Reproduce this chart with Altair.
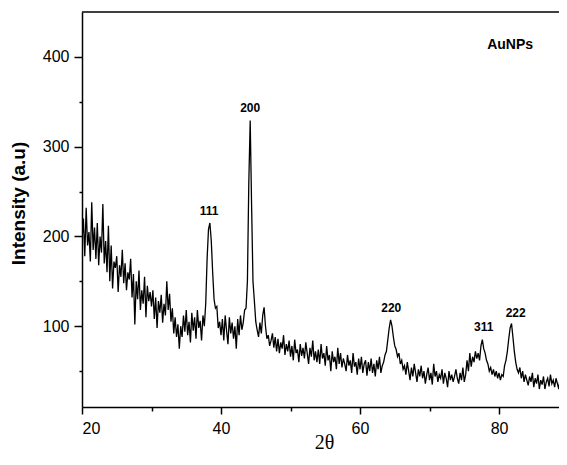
import altair as alt
import pandas as pd

# XRD pattern sampled every 0.2 degrees from 2theta = 20.0
theta_start = 20.0
theta_step = 0.2
intensity = [
    196, 220, 178, 232, 190, 205, 172, 238, 185, 210,   # 20
    175, 215, 168, 200, 182, 236, 170, 195, 160, 212,   # 22
    150, 190, 142, 172, 165, 178, 138, 168, 155, 185,   # 24
    148, 170, 140, 160, 152, 175, 132, 158, 102, 150,   # 26
    130, 162, 118, 140, 125, 155, 110, 145, 128, 138,   # 28
    122, 140, 108, 132, 98, 128, 115, 135, 104, 125,    # 30
    112, 150, 118, 136, 105, 120, 92, 110, 88, 102,     # 32
    75, 100, 88, 112, 94, 118, 90, 105, 82, 115,        # 34
    95, 110, 86, 118, 98, 106, 84, 112, 100, 125,       # 36
    175, 208, 215, 195, 160, 130, 120, 122, 98, 105,    # 38
    90, 108, 84, 112, 95, 80, 110, 92, 104, 86,         # 40
    100, 75, 108, 90, 112, 96, 104, 118, 120, 150,      # 42
    260, 329, 235, 150, 128, 105, 96, 88, 104, 92,      # 44
    112, 121, 100, 86, 90, 78, 84, 92, 76, 88,          # 46
    72, 86, 70, 82, 75, 90, 68, 80, 72, 84,             # 48
    66, 78, 62, 85, 70, 74, 60, 80, 67, 76,             # 50
    64, 82, 70, 58, 76, 66, 84, 62, 72, 60,             # 52
    74, 58, 80, 64, 70, 56, 78, 62, 68, 50,             # 54
    72, 60, 66, 52, 76, 58, 70, 54, 64, 58,             # 56
    50, 68, 56, 62, 48, 70, 55, 60, 46, 64,             # 58
    52, 66, 48, 58, 62, 45, 60, 50, 64, 48,             # 60
    58, 44, 62, 52, 66, 48, 56, 60, 68, 72,             # 62
    85, 98, 107, 100, 88, 78, 74, 66, 70, 58,           # 64
    62, 52, 56, 46, 60, 50, 40, 54, 44, 58,             # 66
    48, 38, 52, 44, 56, 42, 50, 36, 46, 54,             # 68
    40, 48, 35, 58, 44, 50, 38, 46, 42, 52,             # 70
    36, 48, 42, 32, 50, 40, 46, 38, 44, 52,             # 72
    42, 36, 48, 40, 54, 38, 46, 62, 50, 70,             # 74
    55, 66, 60, 72, 64, 70, 62, 78, 85, 75,             # 76
    70, 62, 58, 50, 54, 46, 52, 44, 50, 42,             # 78
    48, 40, 46, 44, 56, 62, 72, 86, 98, 103,            # 80
    88, 72, 60, 52, 48, 54, 42, 50, 38, 46,             # 82
    40, 34, 44, 38, 48, 32, 42, 36, 46, 30,             # 84
    40, 35, 44, 30, 38, 42, 33, 46, 36, 40,             # 86
    32, 42, 36, 30, 44, 34, 38, 28, 40, 35,             # 88
]
theta = [round(theta_start + theta_step * i, 1) for i in range(len(intensity))]

peak_labels = ["111", "200", "220", "311", "222"]
peak_x = [38.3, 44.2, 64.5, 77.8, 82.4]
peak_y = [228, 343, 120, 99, 115]

sample_label = ["AuNPs"]
sample_x = [81.6]
sample_y = [413]

x_ticks = [20, 30, 40, 50, 60, 70, 80]
y_ticks = [50, 100, 150, 200, 250, 300, 350, 400]

W, H = 477, 395

df = pd.DataFrame({"theta": theta, "intensity": intensity})
df_peaks = pd.DataFrame({"label": peak_labels, "x": peak_x, "y": peak_y})
df_sample = pd.DataFrame({"label": sample_label, "x": sample_x, "y": sample_y})

xscale = alt.Scale(domain=[20, 88.63], nice=False, zero=False)
yscale = alt.Scale(domain=[10, 450], nice=False, zero=False)

x_axis = alt.Axis(
    values=x_ticks,
    labelExpr="datum.value % 20 === 0 ? datum.label : ''",
    tickSize={"condition": {"test": "datum.value % 20 === 0", "value": 7}, "value": 4},
    labelPadding=6,
    grid=False,
    title="2θ",
    titleFont="Liberation Serif",
    titleFontSize=20,
    titleFontWeight="normal",
    titleX=242,
    titleY=35,
    titleBaseline="middle",
    titleAlign="center",
)
y_axis = alt.Axis(
    values=y_ticks,
    labelExpr="datum.value % 100 === 0 ? datum.label : ''",
    tickSize={"condition": {"test": "datum.value % 100 === 0", "value": 8}, "value": 3},
    labelPadding=5,
    grid=False,
    title="Intensity (a.u)",
    titleFontSize=19,
    titleFontWeight="bold",
    titleX=-64,
    titleY=191,
    titleAngle=-90,
    titleBaseline="middle",
    titleAlign="center",
)

line = alt.Chart(df).mark_line(color="black", strokeWidth=1.3, clip=True).encode(
    x=alt.X("theta:Q", scale=xscale, axis=x_axis),
    y=alt.Y("intensity:Q", scale=yscale, axis=y_axis),
)

peaks = alt.Chart(df_peaks).mark_text(
    font="Liberation Sans", fontSize=12, fontWeight="bold", color="black"
).encode(
    x=alt.X("x:Q", scale=xscale),
    y=alt.Y("y:Q", scale=yscale),
    text="label:N",
)

sample = alt.Chart(df_sample).mark_text(
    font="Liberation Sans", fontSize=14, fontWeight="bold", color="black"
).encode(
    x=alt.X("x:Q", scale=xscale),
    y=alt.Y("y:Q", scale=yscale),
    text="label:N",
)

top_frame = alt.Chart(df_sample).mark_rule(color="black", strokeWidth=1.5).encode(
    x=alt.value(0), x2=alt.value(W), y=alt.value(0)
)

chart = alt.layer(line, peaks, sample, top_frame).properties(
    width=W,
    height=H,
    autosize=alt.AutoSizeParams(type="none"),
    padding={"left": 74, "top": 4, "right": 0, "bottom": 50},
).configure_view(stroke=None).configure_axis(
    domainColor="black",
    domainWidth=1.5,
    tickColor="black",
    tickWidth=1.5,
    labelColor="black",
    titleColor="black",
    labelFont="Liberation Sans",
    titleFont="Liberation Sans",
    labelFontSize=16,
)

chart.save("out.html", embed_options={"renderer": "svg", "actions": False})
